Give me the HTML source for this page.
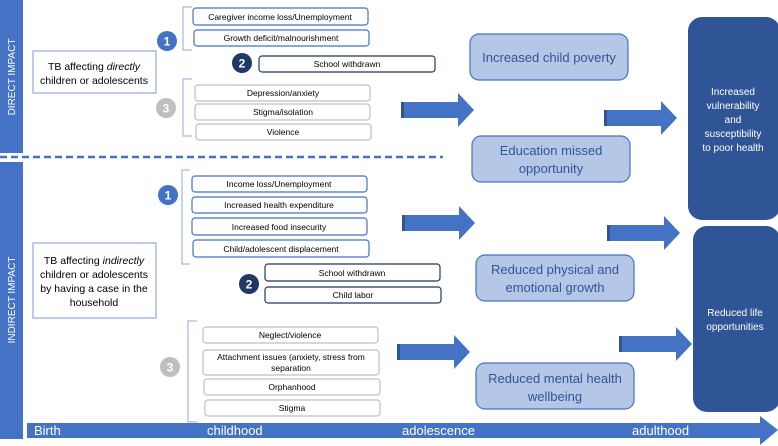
<!DOCTYPE html>
<html><head><meta charset="utf-8"><style>body{margin:0;background:#fff}svg{display:block;font-family:"Liberation Sans",sans-serif}</style></head><body>
<svg width="778" height="446" viewBox="0 0 778 446" xmlns="http://www.w3.org/2000/svg">
<defs>
<g id="arr"><rect x="0" y="9" width="3" height="16" fill="#2f5597"/><polygon points="3,9 57,9 57,0 73,17 57,34 57,25 3,25" fill="#4472c4"/></g>
</defs>
<rect x="0" y="0" width="23" height="153" fill="#4472c4"/>
<rect x="0" y="162" width="23" height="277" fill="#4472c4"/>
<text transform="translate(15,77) rotate(-90)" text-anchor="middle" font-size="10" fill="#fff">DIRECT IMPACT</text>
<text transform="translate(15,300) rotate(-90)" text-anchor="middle" font-size="10" fill="#fff">INDIRECT IMPACT</text>
<line x1="0" y1="157" x2="443" y2="157" stroke="#4472c4" stroke-width="2.5" stroke-dasharray="7,4"/>
<rect x="27" y="423" width="735" height="15" fill="#4472c4"/>
<polygon points="760,416 778,430 760,445" fill="#4472c4"/>
<g font-size="13" fill="#fff"><text x="34" y="435">Birth</text><text x="207" y="435">childhood</text><text x="402" y="435">adolescence</text><text x="632" y="435">adulthood</text></g>
<g fill="#fff" stroke="#8faadc" stroke-width="1.2"><rect x="33" y="51" width="123" height="42"/><rect x="33" y="243" width="123" height="75"/></g>
<g font-size="10.5" text-anchor="middle" fill="#000">
<text x="94" y="70">TB affecting <tspan font-style="italic">directly</tspan></text><text x="94" y="84">children or adolescents</text>
<text x="94" y="264">TB affecting <tspan font-style="italic">indirectly</tspan></text><text x="94" y="278">children or adolescents</text><text x="94" y="292">by having a case in the</text><text x="94" y="306">household</text>
</g>
<g fill="none" stroke="#8faadc" stroke-width="1">
<polyline points="192,7 183,7 183,50 192,50"/><polyline points="192,79 183,79 183,136 192,136"/>
<polyline points="190,170 182,170 182,264 190,264"/><polyline points="197,321 188,321 188,422 197,422"/>
</g>
<g fill="#fff" stroke-width="1.2">
<g stroke="#4472c4"><rect x="193" y="8" width="175" height="17" rx="3"/><rect x="194" y="30" width="175" height="16" rx="3"/>
<rect x="192" y="176" width="175" height="16" rx="3"/><rect x="192" y="197" width="175" height="16" rx="3"/><rect x="192" y="218" width="175" height="17" rx="3"/><rect x="193" y="240" width="176" height="17" rx="3"/></g>
<g stroke="#1f3864"><rect x="259" y="56" width="176" height="16" rx="3"/><rect x="265" y="264" width="175" height="17" rx="3"/><rect x="265" y="287" width="176" height="16" rx="3"/></g>
<g stroke="#bfbfbf"><rect x="195" y="85" width="175" height="16" rx="3"/><rect x="195" y="104" width="175" height="16" rx="3"/><rect x="196" y="124" width="175" height="16" rx="3"/>
<rect x="203" y="327" width="175" height="16" rx="3"/><rect x="203" y="350" width="176" height="25" rx="3"/><rect x="204" y="379" width="176" height="16" rx="3"/><rect x="205" y="400" width="175" height="16" rx="3"/></g>
</g>
<g font-size="8.5" text-anchor="middle" fill="#000">
<text x="280" y="20">Caregiver income loss/Unemployment</text><text x="281" y="41">Growth deficit/malnourishment</text>
<text x="347" y="67">School withdrawn</text>
<text x="283" y="96">Depression/anxiety</text><text x="283" y="115">Stigma/isolation</text><text x="283" y="135">Violence</text>
<text x="279" y="187">Income loss/Unemployment</text><text x="279" y="208">Increased health expenditure</text><text x="279" y="230">Increased food insecurity</text><text x="281" y="252">Child/adolescent displacement</text>
<text x="352" y="276">School withdrawn</text><text x="353" y="298">Child labor</text>
<text x="290" y="338">Neglect/violence</text><text x="291" y="360">Attachment issues (anxiety, stress from</text><text x="291" y="371">separation</text>
<text x="292" y="390">Orphanhood</text><text x="292" y="411">Stigma</text>
</g>
<g font-size="12" text-anchor="middle" fill="#fff" font-weight="bold">
<circle cx="167" cy="41" r="10" fill="#4472c4"/><text x="167" y="45.5">1</text>
<circle cx="242" cy="63" r="10" fill="#1f3864"/><text x="242" y="67.5">2</text>
<circle cx="166" cy="108" r="10" fill="#bfbfbf"/><text x="166" y="112.5">3</text>
<circle cx="168" cy="195" r="10" fill="#4472c4"/><text x="168" y="199.5">1</text>
<circle cx="249" cy="284" r="10" fill="#1f3864"/><text x="249" y="288.5">2</text>
<circle cx="170" cy="367" r="10" fill="#bfbfbf"/><text x="170" y="371.5">3</text>
</g>
<use href="#arr" x="401" y="93"/><use href="#arr" x="604" y="101"/>
<use href="#arr" x="402" y="206"/><use href="#arr" x="607" y="216"/>
<use href="#arr" x="397" y="335"/><use href="#arr" x="619" y="327"/>
<g fill="#b4c7e7" stroke="#4472c4" stroke-width="1.2">
<rect x="470" y="34" width="158" height="46" rx="9"/><rect x="472" y="136" width="158" height="46" rx="9"/>
<rect x="476" y="255" width="158" height="46" rx="9"/><rect x="476" y="363" width="158" height="46" rx="9"/>
</g>
<g font-size="13" text-anchor="middle" fill="#2f5597">
<text x="549" y="62">Increased child poverty</text>
<text x="551" y="155">Education missed</text><text x="551" y="173">opportunity</text>
<text x="555" y="274">Reduced physical and</text><text x="555" y="292">emotional growth</text>
<text x="555" y="383">Reduced mental health</text><text x="555" y="401">wellbeing</text>
</g>
<rect x="688" y="17" width="92" height="203" rx="14" fill="#2f5597"/>
<rect x="693" y="226" width="87" height="186" rx="14" fill="#2f5597"/>
<g font-size="10" text-anchor="middle" fill="#fff">
<text x="733" y="95">Increased</text><text x="733" y="109">vulnerability</text><text x="733" y="123">and</text><text x="733" y="137">susceptibility</text><text x="733" y="151">to poor health</text>
<text x="735" y="316">Reduced life</text><text x="735" y="330">opportunities</text>
</g>
</svg>
</body></html>
